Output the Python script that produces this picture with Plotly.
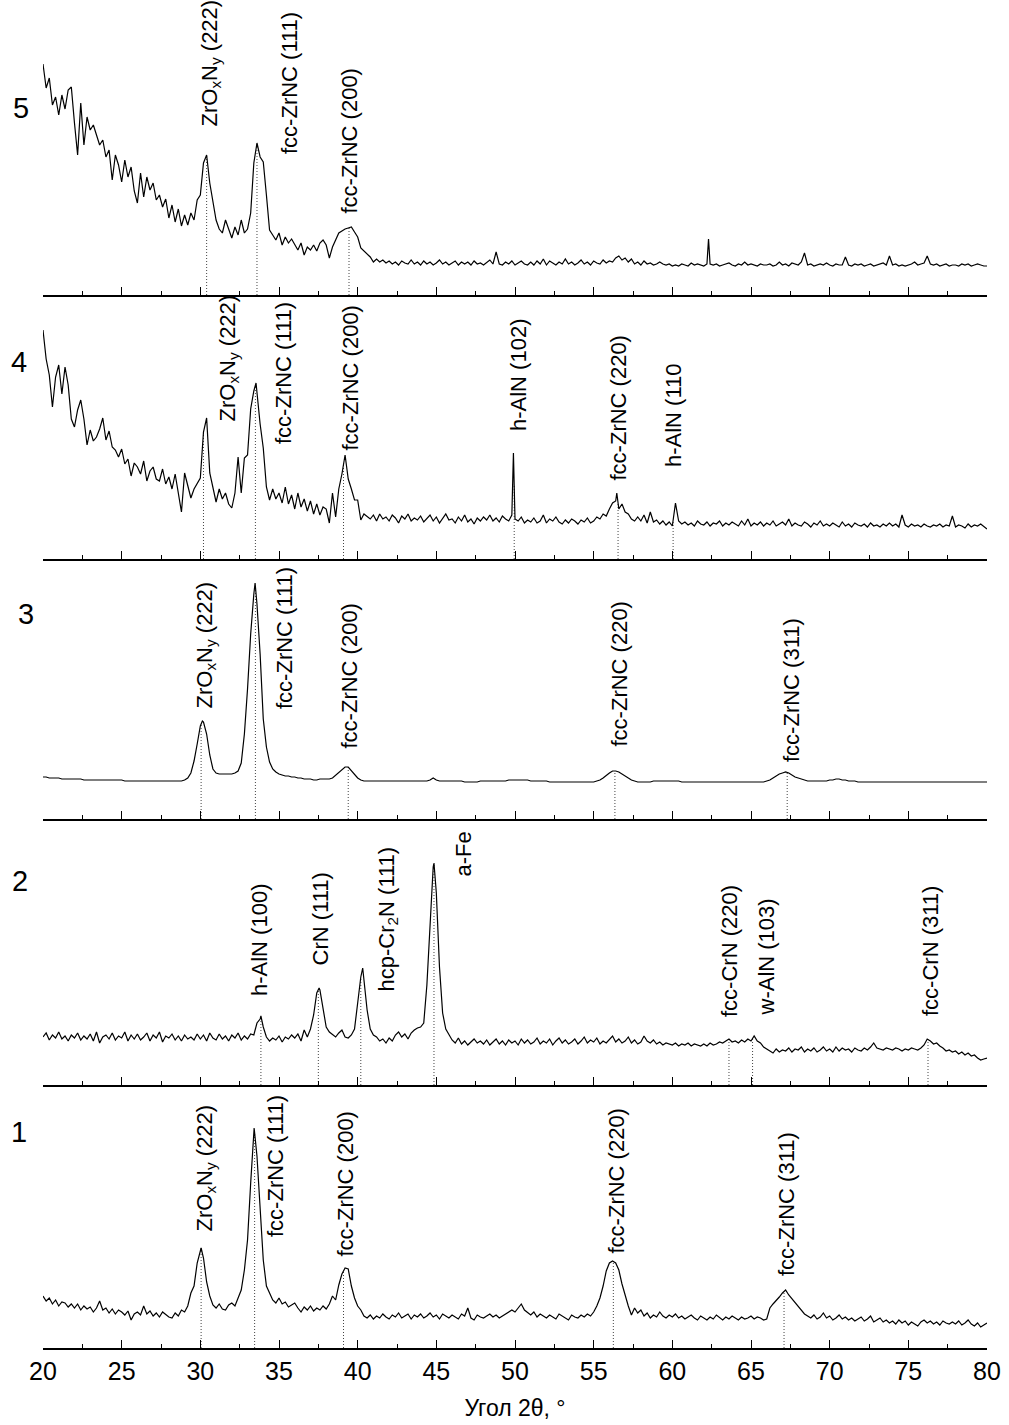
import numpy as np
import plotly.graph_objects as go

# ---------------- DATA ----------------
# common 2-theta sampling grid (degrees)
two_theta = np.round(np.arange(20.0, 80.0 + 1e-9, 0.2), 1)

# intensities (arb. units), one value per grid point
p5_intensity = [
    231, 207, 217, 190, 198, 180, 200, 186, 205, 208,
    172, 140, 192, 150, 178, 165, 170, 160, 150, 155,
    138, 145, 115, 140, 130, 113, 135, 118, 128, 104,
    92, 122, 98, 118, 105, 112, 95, 100, 88, 96,
    77, 90, 73, 86, 69, 80, 70, 82, 75, 95,
    100, 132, 140, 112, 92, 75, 66, 62, 75, 65,
    57, 68, 60, 75, 62, 66, 82, 132, 152, 138,
    133, 100, 65, 60, 55, 62, 50, 58, 52, 56,
    50, 45, 52, 40, 48, 45, 50, 44, 52, 55,
    50, 37, 48, 55, 62, 64, 66, 67, 68, 63,
    58, 47, 44, 42, 38, 33, 36, 33, 35, 32,
    34, 31, 33, 30, 34, 32, 31, 35, 31, 33,
    30, 34, 31, 33, 30, 32, 35, 31, 33, 30,
    32, 34, 30, 33, 31, 33, 30, 34, 31, 32,
    30, 33, 35, 31, 43, 31, 30, 33, 31, 34,
    30, 32, 34, 31, 30, 33, 30, 34, 31, 36,
    30, 34, 32, 30, 33, 31, 36, 31, 33, 30,
    32, 35, 31, 33, 30, 34, 32, 31, 35, 32,
    34, 33, 37, 39, 35, 37, 33, 36, 31, 33,
    30, 34, 31, 32, 30, 31, 33, 31, 30, 31,
    29, 30, 29, 31, 30, 29, 32, 30, 31, 30,
    29, 31, 31, 30, 31, 29, 30, 31, 32, 30,
    29, 31, 30, 33, 30, 31, 30, 29, 31, 30,
    30, 31, 29, 30, 33, 30, 31, 29, 32, 31,
    30, 33, 42, 30, 31, 29, 30, 31, 30, 32,
    30, 29, 31, 30, 30, 38, 30, 29, 31, 30,
    31, 29, 30, 31, 29, 30, 31, 32, 30, 39,
    30, 31, 29, 30, 29, 30, 31, 33, 30, 31,
    32, 39, 31, 30, 31, 29, 30, 31, 29, 30,
    30, 29, 31, 30, 31, 29, 30, 31, 30, 29,
    29,
]
p5_extra_x = [62.3]
p5_extra_y = [56]

p4_intensity = [
    229, 200, 184, 152, 182, 194, 165, 192, 174, 140,
    132, 149, 159, 140, 114, 129, 118, 122, 130, 141,
    119, 128, 112, 109, 102, 110, 95, 100, 83, 96,
    92, 85, 98, 78, 88, 92, 80, 78, 90, 75,
    82, 70, 85, 65, 47, 86, 72, 61, 70, 75,
    81, 127, 141, 86, 72, 57, 70, 60, 66, 55,
    51, 66, 102, 66, 101, 104, 150, 168, 165, 135,
    111, 72, 59, 70, 60, 66, 56, 72, 55, 64,
    50, 66, 52, 60, 48, 58, 45, 55, 44, 52,
    50, 36, 66, 42, 70, 85, 104, 80, 70, 59,
    59, 39, 45, 42, 40, 44, 38, 45, 40, 42,
    38, 44, 41, 36, 43, 40, 45, 38, 41, 39,
    43, 37, 40, 44, 38, 42, 36, 41, 45, 39,
    40, 36, 42, 38, 44, 37, 40, 35, 41, 38,
    42, 39, 44, 38, 41, 37, 43, 40, 38, 44,
    40, 38, 42, 36, 39, 37, 41, 36, 38, 44,
    36, 40, 38, 42, 37, 35, 39, 36, 40, 38,
    35, 39, 37, 41, 36, 38, 42, 40, 45, 43,
    50, 56, 58, 50, 55, 47, 45, 40, 38, 42,
    38, 44, 36, 47, 37, 39, 35, 38, 34, 37,
    33, 56, 38, 35, 37, 34, 36, 33, 38, 35,
    34, 37, 33, 36, 35, 38, 33, 36, 34, 37,
    35, 33, 38, 34, 40, 33, 36, 34, 37, 33,
    36, 34, 38, 33, 35, 37, 34, 40, 33, 36,
    34, 33, 37, 35, 32, 36, 34, 38, 33, 35,
    33, 36, 34, 32, 37, 33, 35, 32, 36, 34,
    33, 35, 32, 36, 33, 34, 32, 35, 33, 36,
    33, 35, 32, 44, 34, 32, 35, 33, 34, 32,
    35, 33, 32, 34, 33, 35, 32, 34, 33, 43,
    32, 34, 33, 31, 35, 32, 34, 33, 35, 32,
    30,
]
p4_extra_x = [33.54, 49.9, 56.47]
p4_extra_y = [176, 106, 66]

p3_intensity = [
    42, 42, 41, 41, 41, 41, 40, 40, 40, 40,
    40, 40, 40, 39, 39, 39, 39, 39, 39, 39,
    39, 39, 39, 39, 39, 39, 38, 38, 38, 38,
    38, 38, 38, 38, 38, 38, 38, 38, 38, 38,
    38, 38, 38, 38, 38, 39, 41, 46, 58, 75,
    93, 97, 85, 64, 50, 46, 45, 45, 45, 45,
    45, 46, 48, 56, 85, 130, 185, 225, 215, 165,
    100, 72, 57, 50, 47, 45, 44, 43, 43, 42,
    42, 41, 41, 40, 40, 40, 39, 39, 40, 40,
    40, 40, 41, 44, 47, 50, 52, 52, 48, 44,
    41, 39, 38, 38, 38, 38, 38, 38, 38, 38,
    38, 38, 38, 38, 38, 38, 38, 38, 38, 38,
    38, 38, 38, 39, 41, 39, 38, 38, 38, 38,
    38, 38, 38, 38, 37, 37, 37, 37, 37, 38,
    38, 38, 38, 38, 38, 38, 38, 38, 39, 39,
    39, 39, 39, 39, 39, 38, 38, 38, 38, 38,
    38, 37, 37, 37, 37, 37, 37, 37, 37, 37,
    37, 37, 37, 37, 37, 37, 38, 39, 41, 44,
    46, 48, 48, 47, 45, 43, 41, 39, 38, 37,
    37, 37, 37, 37, 38, 38, 38, 38, 38, 38,
    38, 38, 38, 37, 37, 37, 37, 37, 37, 37,
    37, 37, 37, 37, 37, 37, 37, 37, 37, 37,
    37, 37, 37, 37, 37, 37, 37, 37, 37, 37,
    38, 39, 41, 43, 45, 46, 47, 46, 44, 42,
    41, 40, 39, 38, 38, 38, 38, 38, 38, 38,
    39, 39, 40, 40, 39, 39, 38, 38, 38, 37,
    37, 37, 37, 37, 37, 37, 37, 37, 37, 37,
    37, 37, 37, 37, 37, 37, 37, 37, 37, 37,
    37, 37, 37, 37, 37, 37, 37, 37, 37, 37,
    37, 37, 37, 37, 37, 37, 37, 37, 37, 37,
    37,
]
p3_extra_x = [30.13, 33.48]
p3_extra_y = [98, 236]

p2_intensity = [
    48, 52, 45, 50, 47, 53, 46, 49, 44, 50,
    47, 52, 45, 49, 46, 51, 44, 53, 42, 48,
    50, 46, 52, 45, 49, 47, 53, 44, 50, 46,
    51, 45, 48, 52, 44, 50, 47, 53, 43, 49,
    47, 51, 45, 49, 44, 50, 46, 48, 45, 51,
    46, 50, 44, 52, 47, 45, 51, 46, 49, 44,
    50, 47, 52, 45, 49, 46, 51, 50, 62, 66,
    58, 48, 44, 47, 45, 49, 43, 48, 46, 50,
    47, 51, 44, 55, 48, 56, 70, 92, 95, 74,
    58, 53, 50, 48, 52, 55, 48, 47, 50, 56,
    82, 108, 104, 75, 56, 50, 48, 44, 46, 42,
    47, 44, 50, 53, 48, 51, 46, 52, 55, 57,
    58, 62, 100, 165, 218, 192, 118, 72, 56, 50,
    45, 42, 47, 41, 44, 40, 43, 46, 42, 44,
    41, 45, 40, 43, 46, 41, 44, 40, 45, 42,
    44, 40, 46, 42, 45, 41, 43, 47, 41, 44,
    42, 46, 40, 44, 47, 42, 45, 41, 43, 46,
    41, 44, 48, 42, 45, 43, 47, 41, 44, 42,
    45, 49, 43, 46, 42, 44, 48, 42, 45, 41,
    43, 49, 44, 42, 45, 41, 43, 40, 42, 41,
    40, 42, 39, 41, 40, 42, 39, 41, 40, 39,
    41, 39, 42, 40, 41, 43, 42, 44, 46, 43,
    44, 42, 45, 43, 46, 44, 49, 44, 42, 38,
    36, 34, 32, 36, 33, 35, 34, 37, 33, 36,
    35, 38, 33, 36, 34, 37, 33, 35, 38, 34,
    36, 33, 38, 34, 37, 35, 36, 33, 37, 35,
    34, 37, 35, 38, 42, 37, 36, 35, 37, 36,
    35, 37, 36, 34, 36, 35, 37, 36, 35, 37,
    40, 46, 44, 41, 42, 39, 37, 34, 35, 33,
    34, 31, 33, 30, 32, 29, 30, 27, 25, 26,
    27,
]
p2_extra_x = [33.85, 37.55, 40.32, 44.85]
p2_extra_y = [69, 97, 117, 222]

p1_intensity = [
    52, 47, 50, 44, 48, 42, 46, 45, 41, 44,
    40, 44, 38, 42, 39, 41, 36, 40, 47, 38,
    40, 35, 39, 34, 38, 36, 33, 37, 28, 34,
    36, 33, 42, 34, 37, 32, 35, 31, 36, 33,
    31, 30, 35, 32, 38, 36, 42, 55, 62, 85,
    97, 90, 66, 52, 43, 40, 44, 39, 38, 43,
    45, 42, 50, 58, 78, 108, 165, 218, 192, 140,
    88, 62, 55, 48, 45, 50, 44, 46, 41, 43,
    45, 40, 36, 41, 38, 42, 37, 40, 38, 42,
    39, 44, 52, 48, 63, 74, 80, 79, 62, 50,
    42, 38, 32, 30, 33, 29, 32, 30, 34, 31,
    29, 33, 31, 35, 30, 32, 34, 29, 33, 31,
    34, 30, 32, 35, 31, 33, 29, 34, 32, 30,
    33, 31, 29, 34, 32, 40, 30, 28, 33, 31,
    30, 32, 34, 31, 33, 30, 32, 34, 36, 38,
    36, 40, 44, 38, 35, 33, 36, 31, 34, 32,
    30, 33, 31, 29, 34, 32, 30, 28, 33, 31,
    30, 33, 31, 34, 32, 36, 42, 50, 62, 77,
    85, 87, 85, 78, 64, 52, 42, 33, 40, 35,
    38, 32, 35, 30, 33, 31, 36, 32, 30, 33,
    31, 34, 30, 32, 29, 31, 33, 30, 28, 32,
    30, 28, 31, 29, 33, 30, 28, 31, 29, 32,
    30, 28, 31, 29, 30, 32, 29, 31, 30, 28,
    29, 40, 44, 47, 51, 55, 58, 53, 49, 45,
    42, 38, 34, 32, 30, 33, 29, 31, 35, 30,
    32, 28, 30, 33, 29, 31, 28, 30, 27, 29,
    31, 27, 29, 32, 26, 28, 30, 26, 28, 25,
    27, 24, 28, 25, 27, 23, 26, 24, 22, 26,
    28, 25, 27, 24, 26, 23, 27, 25, 24, 26,
    24, 27, 23, 25, 28, 24, 22, 25, 21, 23,
    25,
]
p1_extra_x = [30.05, 33.42]
p1_extra_y = [100, 220]

# reflection positions (2-theta) marked with dotted lines
p5_marks = [30.4, 33.6, 39.45]
p4_marks = [30.2, 33.5, 39.1, 49.95, 56.55, 60.05]
p3_marks = [30.05, 33.5, 39.4, 56.35, 67.3]
p2_marks = [33.85, 37.5, 40.2, 44.85, 63.6, 65.1, 76.25]
p1_marks = [30.05, 33.45, 39.1, 56.25, 67.1]

ZRON = "ZrO<sub>x</sub>N<sub>y</sub> (222)"
p5_labels = [ZRON, "fcc-ZrNC (111)", "fcc-ZrNC (200)"]
p4_labels = [ZRON, "fcc-ZrNC (111)", "fcc-ZrNC (200)", "h-AlN (102)",
             "fcc-ZrNC (220)", "h-AlN (110"]
p3_labels = [ZRON, "fcc-ZrNC (111)", "fcc-ZrNC (200)", "fcc-ZrNC (220)",
             "fcc-ZrNC (311)"]
p2_labels = ["h-AlN (100)", "CrN (111)", "hcp-Cr<sub>2</sub>N (111)", "a-Fe",
             "fcc-CrN (220)", "w-AlN (103)", "fcc-CrN (311)"]
p1_labels = [ZRON, "fcc-ZrNC (111)", "fcc-ZrNC (200)", "fcc-ZrNC (220)",
             "fcc-ZrNC (311)"]

sample_names = ["5", "4", "3", "2", "1"]
tick_values = [20, 25, 30, 35, 40, 45, 50, 55, 60, 65, 70, 75, 80]
x_title = "Угол 2θ, °"

# ---------------- LAYOUT (pixels) ----------------
FIG_W, FIG_H = 1009, 1425
M_L, M_R, M_T, M_B = 43, 22, 0, 77
PLOT_W = FIG_W - M_L - M_R
PLOT_H = FIG_H - M_T - M_B
AXIS_PX = [295, 559, 819, 1085, 1348]          # axis line of each panel
# label placement: (center x px, bottom y px)
LABEL_POS = [
    [(210, 128), (289, 155), (349, 215)],
    [(228, 423), (283, 445), (350, 452), (518, 432), (618, 482), (673, 468)],
    [(205, 710), (284, 710), (349, 750), (619, 748), (791, 763)],
    [(259, 997), (320, 967), (387, 993), (463, 878), (729, 1018), (766, 1017), (930, 1017)],
    [(205, 1233), (275, 1238), (345, 1258), (616, 1255), (786, 1277)],
]
NUM_POS = [(21, 108), (19, 362), (26, 614), (20, 881), (19, 1132)]

FONT = "Liberation Sans, Arial, sans-serif"


def px_to_x(px):
    return 20 + (px - M_L) / PLOT_W * 60


def merged(base, ex_x, ex_y):
    assert len(base) == len(two_theta)
    x = np.concatenate([two_theta, np.array(ex_x, float)])
    y = np.concatenate([np.array(base, float), np.array(ex_y, float)])
    o = np.argsort(x, kind="stable")
    return x[o], y[o]


panels = [
    (p5_intensity, p5_extra_x, p5_extra_y, p5_marks, p5_labels),
    (p4_intensity, p4_extra_x, p4_extra_y, p4_marks, p4_labels),
    (p3_intensity, p3_extra_x, p3_extra_y, p3_marks, p3_labels),
    (p2_intensity, p2_extra_x, p2_extra_y, p2_marks, p2_labels),
    (p1_intensity, p1_extra_x, p1_extra_y, p1_marks, p1_labels),
]

fig = go.Figure()
annotations = []
layout_axes = {}

for i, (inten, ex_x, ex_y, marks, labels) in enumerate(panels):
    n = i + 1
    xa = "x" if n == 1 else f"x{n}"
    ya = "y" if n == 1 else f"y{n}"
    top_px = 0 if i == 0 else AXIS_PX[i - 1]
    bot_px = AXIS_PX[i]
    x, y = merged(inten, ex_x, ex_y)

    # dotted reflection markers, from axis up to the curve
    mx, my = [], []
    for m in marks:
        mx += [m, m, None]
        my += [0, float(np.interp(m, x, y)), None]
    fig.add_trace(go.Scatter(x=mx, y=my, mode="lines", xaxis=xa, yaxis=ya,
                             line=dict(color="#444444", width=1, dash="1px,2px"),
                             hoverinfo="skip", showlegend=False))
    fig.add_trace(go.Scatter(x=x, y=y, mode="lines", xaxis=xa, yaxis=ya,
                             line=dict(color="black", width=1.2),
                             showlegend=False))

    is_bottom = (i == len(panels) - 1)
    xkey = "xaxis" if n == 1 else f"xaxis{n}"
    ykey = "yaxis" if n == 1 else f"yaxis{n}"
    layout_axes[xkey] = dict(
        domain=[0, 1], anchor=ya, range=[20, 80], automargin=False,
        showline=True, linecolor="black", linewidth=1.6,
        ticks="inside", ticklen=8, tickwidth=1.4, tickcolor="black",
        tickmode="array", tickvals=tick_values,
        showticklabels=is_bottom,
        tickfont=dict(size=25, color="black", family=FONT),
        ticklabelstandoff=0,
        minor=dict(ticks="inside", ticklen=4, tickwidth=1.2, tickcolor="black",
                   dtick=2.5, tick0=20, showgrid=False),
        showgrid=False, zeroline=False,
        title=dict(text=x_title, font=dict(size=23, color="black", family=FONT),
                   standoff=16) if is_bottom else None,
    )
    layout_axes[ykey] = dict(
        domain=[(PLOT_H - bot_px) / PLOT_H, (PLOT_H - top_px) / PLOT_H],
        range=[0, bot_px - top_px], visible=False, anchor=xa,
    )

    for text, (cx, by) in zip(labels, LABEL_POS[i]):
        annotations.append(dict(
            text=text, x=px_to_x(cx), y=bot_px - by, xref=xa, yref=ya,
            textangle=-90, xanchor="center", yanchor="bottom",
            showarrow=False, font=dict(size=22, color="black", family=FONT),
            borderpad=0,
        ))

    nx, ny = NUM_POS[i]
    annotations.append(dict(
        text=sample_names[i], x=(nx - M_L) / PLOT_W, y=(PLOT_H - ny) / PLOT_H,
        xref="paper", yref="paper", xanchor="center", yanchor="middle",
        showarrow=False, font=dict(size=29, color="black", family=FONT),
    ))

fig.update_layout(
    width=FIG_W, height=FIG_H,
    margin=dict(l=M_L, r=M_R, t=M_T, b=M_B),
    paper_bgcolor="white", plot_bgcolor="white",
    font=dict(family=FONT, color="black"),
    annotations=annotations,
    showlegend=False,
    **layout_axes,
)

fig.write_html(
    "out.html",
    config={"displayModeBar": False},
    post_script="document.body.style.margin='0';document.body.style.padding='0';",
)
